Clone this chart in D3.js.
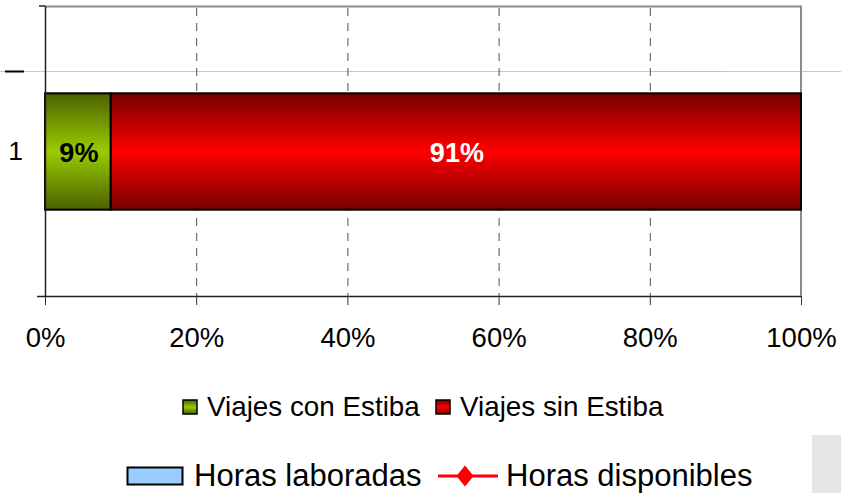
<!DOCTYPE html>
<html lang="es">
<head>
  <meta charset="UTF-8">
  <title>Viajes con / sin Estiba</title>
  <script src="https://cdn.jsdelivr.net/npm/d3@7"></script>
  <style>
    html, body {
      margin: 0;
      padding: 0;
      background: #fff;
    }
    svg text {
      font-family: "Liberation Sans", Arial, sans-serif;
    }
  </style>
</head>
<body>
  <svg id="chart" width="841" height="493"></svg>
  <script>
    // data
    const categories = ['1'];
    const seriesNames = ['Viajes con Estiba', 'Viajes sin Estiba'];
    const conEstiba = [8.7];
    const sinEstiba = [91.3];
    const xTicks = [0, 20, 40, 60, 80, 100];
    const otherLegend = ['Horas laboradas', 'Horas disponibles'];

    const svg = d3.select('#chart');
    const W = 841, H = 493;

    const x = d3.scaleLinear().domain([0, 100]).range([45, 801]);
    const y = d3.scaleBand().domain(categories).range([6, 297])
      .paddingInner(0.4286).paddingOuter(0.4286);

    // gradients
    const defs = svg.append('defs');
    const grads = [
      {id: 'gGreen', edge: '#4b6100', mid: '#99cc00'},
      {id: 'gRed', edge: '#760000', mid: '#ff0000'},
    ];
    grads.forEach(g => {
      const lg = defs.append('linearGradient').attr('id', g.id)
        .attr('x1', 0).attr('y1', 0).attr('x2', 0).attr('y2', 1);
      lg.append('stop').attr('offset', 0).attr('stop-color', g.edge);
      lg.append('stop').attr('offset', 0.5).attr('stop-color', g.mid);
      lg.append('stop').attr('offset', 1).attr('stop-color', g.edge);
    });

    // leftover of the chart behind (light line across)
    svg.append('line')
      .attr('x1', 0).attr('x2', W).attr('y1', 71.5).attr('y2', 71.5)
      .attr('stroke', '#c8c8c8').attr('stroke-width', 1);
    svg.append('line')
      .attr('x1', 5).attr('x2', 24).attr('y1', 71.5).attr('y2', 71.5)
      .attr('stroke', '#000').attr('stroke-width', 2);
    svg.append('line')
      .attr('x1', 658).attr('x2', 725).attr('y1', 71.5).attr('y2', 71.5)
      .attr('stroke', '#99ccff').attr('stroke-width', 1);

    // plot frame (top and right in grey)
    const [y0, y1] = y.range();
    svg.append('path')
      .attr('d', `M${x(0)},${y0 + 0.5}H${x(100)}V${y1 - 1}`)
      .attr('fill', 'none').attr('stroke', '#8c8c8c').attr('stroke-width', 2);

    // dashed gridlines
    svg.append('g')
      .selectAll('line')
      .data(xTicks.slice(1, -1))
      .join('line')
      .attr('x1', d => x(d) + 0.5).attr('x2', d => x(d) + 0.5)
      .attr('y1', y0 + 2).attr('y2', y1 - 1)
      .attr('stroke', '#505050').attr('stroke-width', 1)
      .attr('stroke-dasharray', '8,7');

    // bars
    const stackData = categories.map((c, i) => ({cat: c, con: conEstiba[i], sin: sinEstiba[i]}));
    const stack = d3.stack().keys(['con', 'sin'])(stackData);
    const fills = ['url(#gGreen)', 'url(#gRed)'];

    const groups = svg.append('g').selectAll('g')
      .data(stack)
      .join('g')
      .attr('fill', (d, i) => fills[i]);

    groups.selectAll('rect')
      .data(d => d)
      .join('rect')
      .attr('x', d => x(d[0]))
      .attr('y', d => y(d.data.cat))
      .attr('width', d => x(d[1]) - x(d[0]))
      .attr('height', y.bandwidth())
      .attr('stroke', '#000')
      .attr('stroke-width', 2);

    groups.selectAll('text')
      .data(d => d)
      .join('text')
      .attr('x', d => (x(d[0]) + x(d[1])) / 2 + 1)
      .attr('y', d => y(d.data.cat) + y.bandwidth() / 2 + 10)
      .attr('text-anchor', 'middle')
      .attr('font-size', 27)
      .attr('font-weight', 'bold')
      .attr('fill', (d, i, n) => n[i].parentNode.__data__.key === 'con' ? '#000' : '#fff')
      .text(d => Math.round(d[1] - d[0]) + '%');

    // x axis
    const xAxis = svg.append('g')
      .attr('transform', `translate(0,${y1 - 1})`)
      .call(d3.axisBottom(x).tickValues(xTicks).tickSize(9).tickPadding(22)
        .tickFormat(d => d + '%'));
    xAxis.select('.domain').attr('stroke', '#222').attr('stroke-width', 1.5)
      .attr('d', `M${x(0) - 8},0.5H${x(100)}`);
    xAxis.selectAll('.tick line').attr('stroke', '#333');
    xAxis.selectAll('.tick text')
      .attr('font-size', 27.5)
      .attr('font-family', '"Liberation Sans", Arial, sans-serif')
      .attr('fill', '#000');

    // y axis
    const yAxis = svg.append('g')
      .attr('transform', `translate(${x(0)},0)`)
      .call(d3.axisLeft(y).tickSize(0).tickPadding(22));
    yAxis.select('.domain').attr('stroke', '#222').attr('stroke-width', 1.5)
      .attr('d', `M0.5,${y0}V${y1}`);
    yAxis.selectAll('.tick text')
      .attr('font-size', 26.5)
      .attr('font-family', '"Liberation Sans", Arial, sans-serif')
      .attr('fill', '#000');
    yAxis.append('line')
      .attr('x1', -6).attr('x2', 0).attr('y1', y0).attr('y2', y0)
      .attr('stroke', '#222').attr('stroke-width', 1.5);

    // legend of this chart
    const leg = svg.append('g');
    const legX = [183, 436];
    seriesNames.forEach((name, i) => {
      leg.append('rect')
        .attr('x', legX[i]).attr('y', 400).attr('width', 14).attr('height', 14)
        .attr('fill', fills[i]).attr('stroke', '#000').attr('stroke-width', 1.5);
      leg.append('text')
        .attr('x', legX[i] + 24).attr('y', 416)
        .attr('font-size', 27.8).attr('fill', '#000')
        .text(name);
    });

    // legend of the chart behind
    const leg2 = svg.append('g');
    leg2.append('rect')
      .attr('x', 127.5).attr('y', 467.5).attr('width', 55).attr('height', 17)
      .attr('fill', '#99ccff').attr('stroke', '#000').attr('stroke-width', 2);
    leg2.append('text')
      .attr('x', 194).attr('y', 486)
      .attr('font-size', 31).attr('fill', '#000')
      .text(otherLegend[0]);
    leg2.append('line')
      .attr('x1', 438).attr('x2', 498).attr('y1', 476).attr('y2', 476)
      .attr('stroke', '#ff0000').attr('stroke-width', 3);
    leg2.append('path')
      .attr('d', d3.symbol(d3.symbolDiamond2, 260)())
      .attr('transform', 'translate(465,476) scale(0.85,1.05)')
      .attr('fill', '#ff0000');
    leg2.append('text')
      .attr('x', 506).attr('y', 486)
      .attr('font-size', 31).attr('fill', '#000')
      .text(otherLegend[1]);

    // grey block bottom right
    svg.append('rect')
      .attr('x', 812).attr('y', 435).attr('width', 29).attr('height', 58)
      .attr('fill', '#e6e6e6');
  </script>
</body>
</html>
